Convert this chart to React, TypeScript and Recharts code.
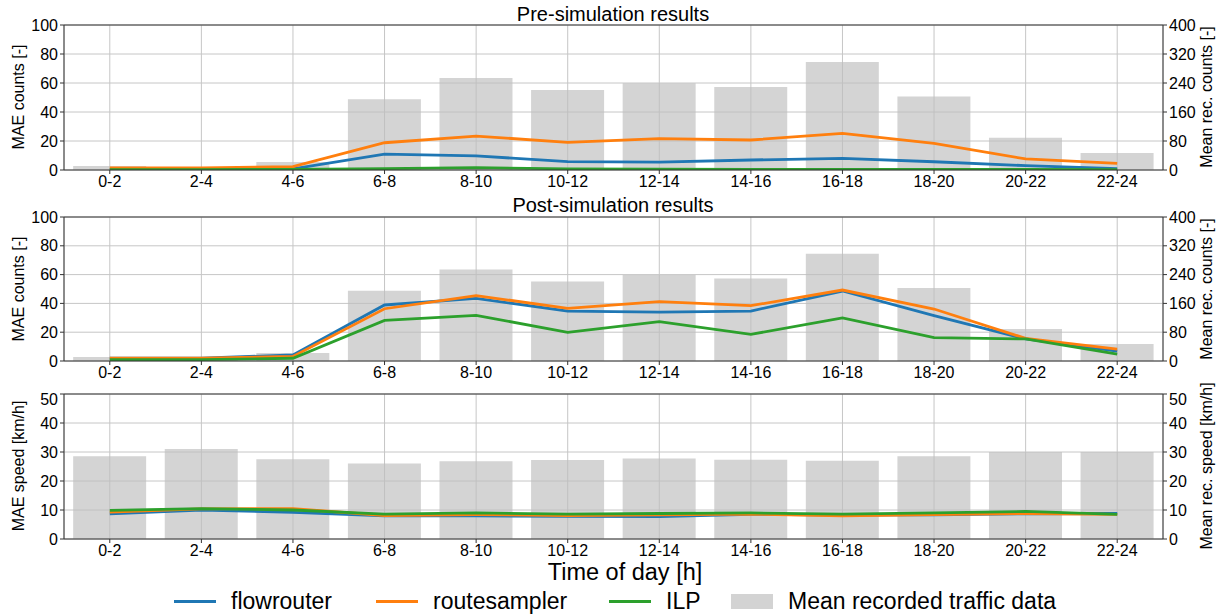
import React from 'react';
import { ComposedChart, Bar, Line, XAxis, YAxis, CartesianGrid, ReferenceLine } from 'recharts';

const categories = ['0-2', '2-4', '4-6', '6-8', '8-10', '10-12', '12-14', '14-16', '16-18', '18-20', '20-22', '22-24'];

const recCounts = [11, 5, 22, 195, 254, 221, 239, 229, 298, 203, 89, 47];
const recSpeed = [28.5, 31, 27.5, 26, 26.8, 27.2, 27.8, 27.3, 27, 28.5, 30, 30];

const preFlow = [0.5, 0.5, 0.8, 11, 9.7, 5.8, 5.4, 6.9, 8.0, 5.7, 3.0, 0.9];
const preRoute = [1.5, 1.5, 2.3, 18.8, 23.4, 19.1, 21.6, 20.7, 25.3, 18.4, 7.6, 4.6];
const preIlp = [0.3, 0.3, 0.4, 1.0, 1.6, 0.8, 0.6, 0.5, 0.5, 0.5, 0.4, 0.3];

const postFlow = [1.9, 2.0, 4.2, 38.9, 43.5, 34.7, 34.0, 34.7, 48.6, 31.5, 15.3, 6.9];
const postRoute = [2.0, 2.0, 3.2, 36.3, 45.4, 36.6, 41.2, 38.4, 49.3, 36.1, 15.7, 8.3];
const postIlp = [0.9, 1.0, 1.9, 28.2, 31.7, 19.9, 27.3, 18.5, 29.9, 16.2, 15.3, 4.7];

const speedFlow = [8.7, 10.0, 9.2, 8.0, 8.0, 7.8, 7.7, 8.5, 8.2, 8.3, 8.7, 8.8];
const speedRoute = [9.3, 10.4, 10.5, 8.1, 8.4, 8.1, 8.3, 8.6, 8.0, 8.4, 8.8, 8.5];
const speedIlp = [9.9, 10.5, 10.0, 8.6, 9.0, 8.6, 8.8, 9.0, 8.6, 9.0, 9.5, 8.5];

const countTicksLeft = [0, 20, 40, 60, 80, 100];
const countTicksRight = [0, 80, 160, 240, 320, 400];
const speedTicks = [0, 10, 20, 30, 40, 50];

const seriesNames = ['flowrouter', 'routesampler', 'ILP'];
const seriesColors = ['#1f77b4', '#ff7f0e', '#2ca02c'];
const barName = 'Mean recorded traffic data';

const FONT = '"Liberation Sans", Arial, sans-serif';
const W = 1223;

function build(flow: number[], route: number[], ilp: number[], rec: number[]) {
  return categories.map((c, i) => ({ cat: c, flow: flow[i], route: route[i], ilp: ilp[i], rec: rec[i] }));
}

type PanelProps = {
  top: number;
  height: number;
  marginTop: number;
  marginBottom: number;
  data: any[];
  leftMax: number;
  leftTicks: number[];
  rightMax: number;
  rightTicks: number[];
};

const tickStyle = { fontSize: 16, fill: '#000', fontFamily: FONT };

function Panel(p: PanelProps) {
  return (
    <div style={{ position: 'absolute', left: 0, top: p.top }}>
      <ComposedChart
        width={W}
        height={p.height}
        data={p.data}
        margin={{ top: p.marginTop, right: 0, bottom: p.marginBottom, left: 0 }}
        barCategoryGap="10%"
      >
        <CartesianGrid stroke="#c6c6c6" strokeWidth={1} yAxisId="l" />
        <XAxis
          dataKey="cat"
          height={25}
          tick={tickStyle}
          tickSize={4}
          tickMargin={2}
          stroke="#333"
          tickLine={{ stroke: '#333' }}
          axisLine={{ stroke: '#333' }}
        />
        <YAxis
          yAxisId="l"
          width={64}
          domain={[0, p.leftMax]}
          ticks={p.leftTicks}
          tick={tickStyle}
          tickSize={4}
          tickMargin={2}
          allowDataOverflow
          stroke="#333"
        />
        <YAxis
          yAxisId="r"
          orientation="right"
          width={60}
          domain={[0, p.rightMax]}
          ticks={p.rightTicks}
          tick={{ ...tickStyle, textAnchor: 'start' }}
          tickSize={4}
          tickMargin={2}
          allowDataOverflow
          stroke="#333"
        />
        <Bar yAxisId="r" dataKey="rec" name={barName} fill="#bdbdbd" fillOpacity={0.66} isAnimationActive={false} />
        <Line yAxisId="l" dataKey="flow" name={seriesNames[0]} stroke={seriesColors[0]} strokeWidth={2.8} dot={false} isAnimationActive={false} />
        <Line yAxisId="l" dataKey="route" name={seriesNames[1]} stroke={seriesColors[1]} strokeWidth={2.8} dot={false} isAnimationActive={false} />
        <Line yAxisId="l" dataKey="ilp" name={seriesNames[2]} stroke={seriesColors[2]} strokeWidth={2.8} dot={false} isAnimationActive={false} />
        <ReferenceLine yAxisId="l" y={p.leftMax} stroke="#333" strokeWidth={1} />
      </ComposedChart>
    </div>
  );
}

function VText({ x, y, text }: { x: number; y: number; text: string }) {
  return (
    <div
      style={{
        position: 'absolute',
        left: x,
        top: y,
        transform: 'translate(-50%, -50%) rotate(-90deg)',
        whiteSpace: 'nowrap',
        fontFamily: FONT,
        fontSize: 16,
        color: '#000',
        lineHeight: '18px',
      }}
    >
      {text}
    </div>
  );
}

function HText({ x, y, text, size }: { x: number; y: number; text: string; size: number }) {
  return (
    <div
      style={{
        position: 'absolute',
        left: x,
        top: y,
        transform: 'translate(-50%, -50%)',
        whiteSpace: 'nowrap',
        fontFamily: FONT,
        fontSize: size,
        color: '#000',
        lineHeight: `${size + 2}px`,
      }}
    >
      {text}
    </div>
  );
}

function LegendRow() {
  const items = [
    { name: seriesNames[0], color: seriesColors[0], type: 'line', x: 174 },
    { name: seriesNames[1], color: seriesColors[1], type: 'line', x: 376 },
    { name: seriesNames[2], color: seriesColors[2], type: 'line', x: 609 },
    { name: barName, color: '#d3d3d3', type: 'rect', x: 731 },
  ];
  return (
    <>
      {items.map((it) => (
        <div key={it.name} style={{ position: 'absolute', left: it.x, top: 588, height: 26, display: 'flex', alignItems: 'center' }}>
          {it.type === 'line' ? (
            <div style={{ width: 42, height: 3, background: it.color }} />
          ) : (
            <div style={{ width: 42, height: 15, background: it.color }} />
          )}
          <span style={{ marginLeft: 15, fontFamily: FONT, fontSize: 23, color: '#000', whiteSpace: 'nowrap', lineHeight: '26px' }}>
            {it.name}
          </span>
        </div>
      ))}
    </>
  );
}

export default function App() {
  const pre = build(preFlow, preRoute, preIlp, recCounts);
  const post = build(postFlow, postRoute, postIlp, recCounts);
  const spd = build(speedFlow, speedRoute, speedIlp, recSpeed);
  return (
    <div style={{ position: 'absolute', left: 0, top: 0, width: W, height: 616, background: '#fff', overflow: 'hidden' }}>
      <Panel top={0} height={195} marginTop={25} marginBottom={0} data={pre} leftMax={100} leftTicks={countTicksLeft} rightMax={400} rightTicks={countTicksRight} />
      <Panel top={195} height={195} marginTop={22} marginBottom={4} data={post} leftMax={100} leftTicks={countTicksLeft} rightMax={400} rightTicks={countTicksRight} />
      <Panel top={390} height={175} marginTop={4} marginBottom={1} data={spd} leftMax={50} leftTicks={speedTicks} rightMax={50} rightTicks={speedTicks} />
      <HText x={613} y={14} text="Pre-simulation results" size={20} />
      <HText x={613} y={205} text="Post-simulation results" size={20} />
      <HText x={625} y={573} text="Time of day [h]" size={23.5} />
      <VText x={19} y={97} text="MAE counts [-]" />
      <VText x={19} y={289} text="MAE counts [-]" />
      <VText x={19} y={466} text="MAE speed [km/h]" />
      <VText x={1207} y={97} text="Mean rec. counts [-]" />
      <VText x={1207} y={289} text="Mean rec. counts [-]" />
      <VText x={1207} y={466} text="Mean rec. speed [km/h]" />
      <LegendRow />
    </div>
  );
}
